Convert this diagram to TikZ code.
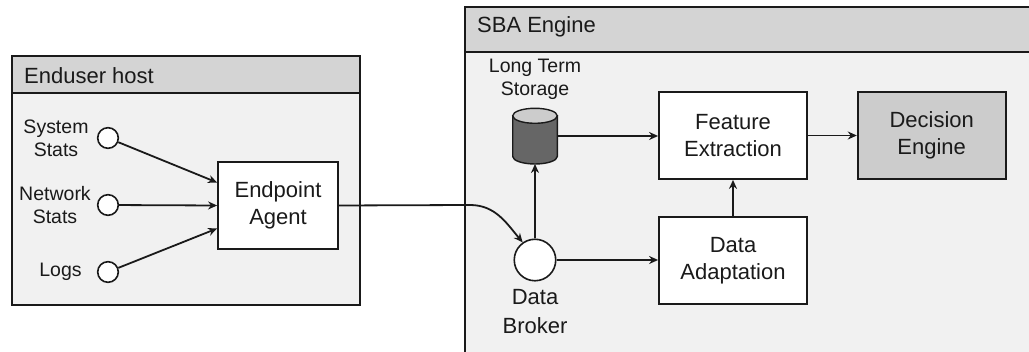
\documentclass[tikz,border=0pt]{standalone}
\usepackage{fontspec}
\setmainfont{Liberation Sans}
\usetikzlibrary{arrows.meta,calc,shapes.geometric}
\definecolor{txt}{HTML}{1A1A1A}
\definecolor{edge}{HTML}{1A1A1A}
\definecolor{bodyfill}{HTML}{F1F1F1}
\definecolor{headfill}{HTML}{D4D4D4}
\definecolor{decfill}{HTML}{CCCCCC}
\definecolor{cyldark}{HTML}{666666}
\definecolor{cyltop}{HTML}{CCCCCC}
\tikzset{
  big/.style={font=\fontsize{22}{27.3}\selectfont},
  small/.style={font=\fontsize{19.5}{23.3}\selectfont},
  procbox/.style={draw=edge, line width=1.8pt, fill=white, minimum width=148pt, minimum height=87pt, inner sep=0pt, align=center, big, text=txt},
  src/.style={draw=edge, line width=1.6pt, fill=white, circle, minimum size=20.6pt, inner sep=0pt},
  lbl/.style={small, align=center, text=txt, inner sep=0pt},
  conn/.style={draw=edge, line width=1.8pt, -{Stealth[length=9pt,width=8pt]}},
  container/.style={draw=edge, line width=1.6pt, fill=bodyfill},
  header/.style={draw=edge, line width=1.6pt, fill=headfill},
}
\begin{document}
\begin{tikzpicture}[x=1pt,y=-1pt]
\useasboundingbox (0,0) rectangle (1029,352);
\clip (0,0) rectangle (1029,352);
% containers
\draw[container] (12,56) rectangle (360,305);
\draw[header] (12,56) rectangle (360,93);
\node[big, text=txt, anchor=base west, inner sep=0pt] (hosttitle) at (24,84) {Enduser host};
\draw[container] (465,7) rectangle (1040,362);
\draw[header] (465,7) rectangle (1040,52);
\node[big, text=txt, anchor=base west, inner sep=0pt] (sbatitle) at (477,33) {SBA Engine};

% enduser host
\node[src] (sys) at (108,138) {};
\node[src] (net) at (108,205) {};
\node[src] (logs) at (108,272) {};
\node[lbl] (syslbl) at (56,138) {System\\Stats};
\node[lbl] (netlbl) at (55,205) {Network\\Stats};
\node[lbl] (logslbl) at (60.5,272) {Logs};
\node[procbox, minimum width=120pt] (agent) at (278,205.5) {Endpoint\\Agent};
\coordinate (a1) at ($(agent.west)+(0,-23)$);
\coordinate (a3) at ($(agent.west)+(0,23)$);
\draw[conn] (sys) -- (a1);
\draw[conn] (net) -- (agent.west);
\draw[conn] (logs) -- (a3);

% SBA engine
\node[src, minimum size=41.5pt] (broker) at (535,260) {};
\node[big, text=txt, align=center, inner sep=0pt, font=\fontsize{22}{29.4}\selectfont, anchor=north] (brokerlbl) at (535,289) {Data\\Broker};
% cylinder
\filldraw[fill=cyldark, draw=edge, line width=1.4pt] (512.7,115.8) -- (512.7,156.5) arc[start angle=180, end angle=0, x radius=22.3, y radius=7.5] -- (557.3,115.8) -- cycle;
\filldraw[fill=cyltop, draw=edge, line width=1.4pt] (535,115.8) ellipse[x radius=22.3, y radius=7.5];
\coordinate (cylE) at (557.3,136);
\coordinate (cylS) at (535,164);
\node[lbl] (storelbl) at (535,79) {Long Term\\Storage};

\node[procbox] (feat) at (733,135.5) {Feature\\Extraction};
\node[procbox, fill=decfill] (dec) at (931.7,135.5) {Decision\\Engine};
\node[procbox] (adapt) at (733,260.5) {Data\\Adaptation};

\coordinate (bend) at (470,205);
\draw[conn] (agent.east) -- (bend) to[out=0, in=130] (broker.125);
\draw[conn] (broker.north) -- (cylS);
\draw[conn] (cylE) -- (cylE -| feat.west);
\draw[conn] (feat.east) -- (dec.west);
\draw[conn] (adapt.north) -- (feat.south);
\draw[conn] (broker.east) -- (broker.east -| adapt.west);
\end{tikzpicture}
\end{document}
